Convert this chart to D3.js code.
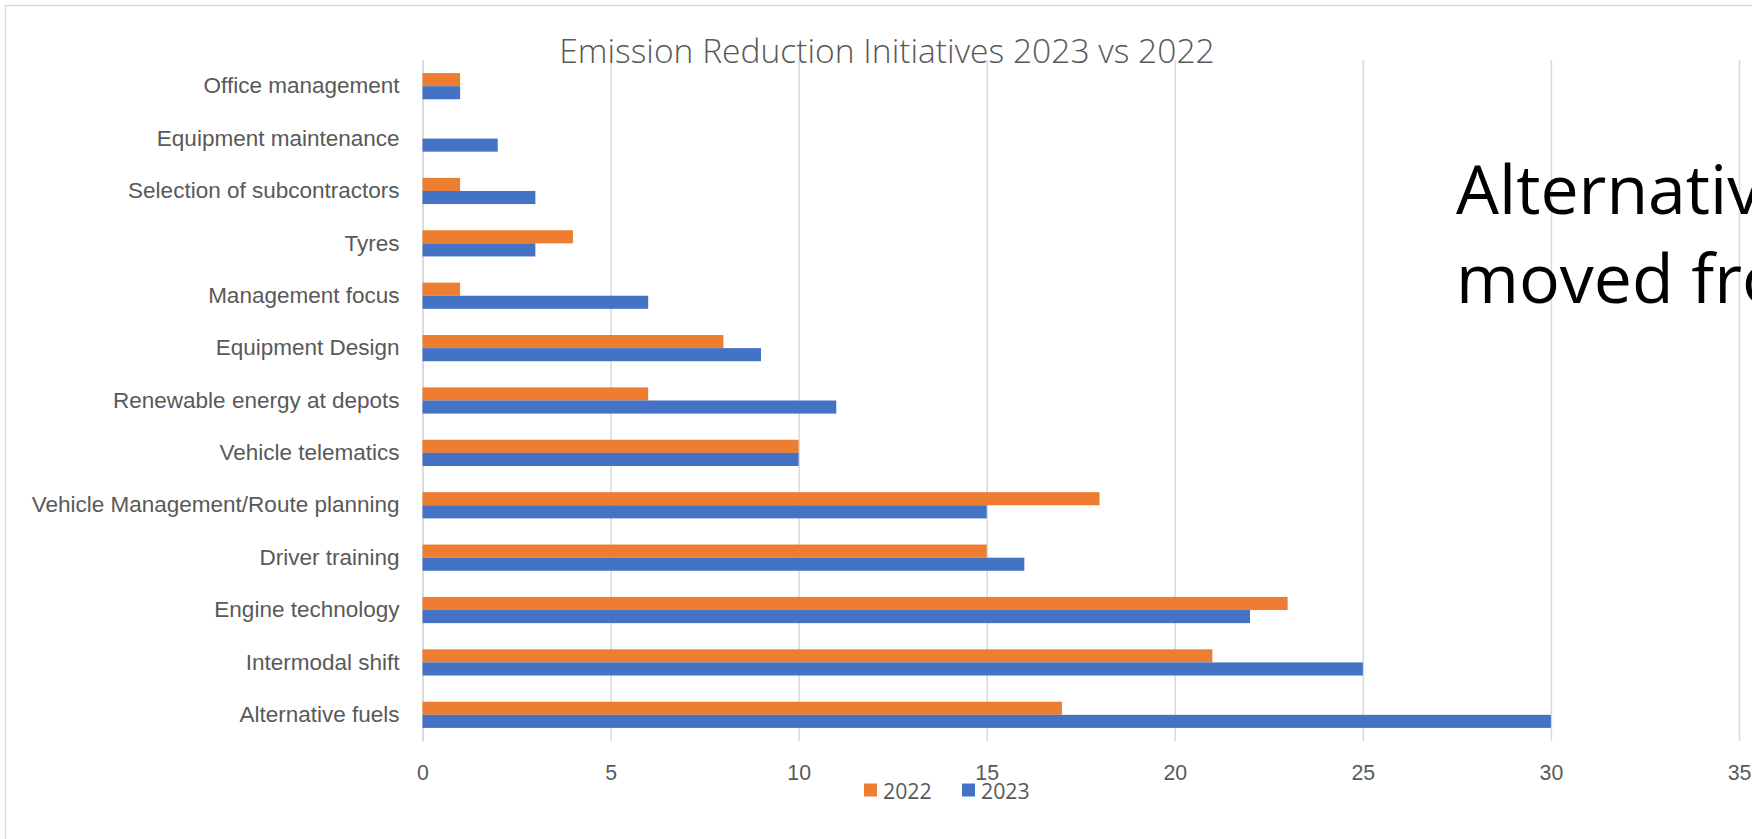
<!DOCTYPE html>
<html>
<head>
<meta charset="utf-8">
<script src="https://cdn.jsdelivr.net/npm/d3@7"></script>
<style>
  html, body { margin: 0; padding: 0; background: #ffffff; overflow: hidden; }
  svg { display: block; font-family: "Open Sans", "Noto Sans", sans-serif; }
</style>
</head>
<body>
<svg id="chart" width="1752" height="839"></svg>
<script>
// Initiatives, listed top to bottom
const categories = [
  "Office management",
  "Equipment maintenance",
  "Selection of subcontractors",
  "Tyres",
  "Management focus",
  "Equipment Design",
  "Renewable energy at depots",
  "Vehicle telematics",
  "Vehicle Management/Route planning",
  "Driver training",
  "Engine technology",
  "Intermodal shift",
  "Alternative fuels"
];
const values2022 = [1, 0, 1, 4, 1, 8, 6, 10, 18, 15, 23, 21, 17];
const values2023 = [1, 2, 3, 3, 6, 9, 11, 10, 15, 16, 22, 25, 30];
const seriesNames = ["2022", "2023"];
const seriesColors = ["#ED7D31", "#4472C4"];
const xTicks = [0, 5, 10, 15, 20, 25, 30, 35];
const titleText = "Emission Reduction Initiatives 2023 vs 2022";
const noteLines = ["Alternative fuels", "moved from"];

const svg = d3.select("#chart");

// chart frame
svg.append("rect")
  .attr("x", 5.5).attr("y", 5.5)
  .attr("width", 2000).attr("height", 2000)
  .attr("fill", "none")
  .attr("stroke", "#d9d9d9")
  .attr("stroke-width", 1.5);

const plot = { left: 422.5, right: 1739, top: 60, bottom: 741 };

const x = d3.scaleLinear().domain([0, 35]).range([plot.left, plot.right]);
const y = d3.scaleBand().domain(categories).range([plot.top, plot.bottom]).padding(0);
const ySub = d3.scaleBand().domain(seriesNames).range([0, y.bandwidth()])
  .paddingInner(0).paddingOuter(1);

// vertical gridlines + value labels
const xAxis = svg.append("g")
  .attr("transform", `translate(0,${plot.bottom})`)
  .call(d3.axisBottom(x).tickValues(xTicks)
    .tickSizeInner(-(plot.bottom - plot.top)).tickSizeOuter(0).tickFormat(d3.format("d")));
xAxis.select(".domain").remove();
xAxis.selectAll(".tick line").attr("stroke", "#d9d9d9").attr("stroke-width", 1.5);
xAxis.selectAll(".tick text")
  .attr("y", 32).attr("dy", "0.35em")
  .attr("fill", "#595959")
  .style("font-size", "21.3px");

// category axis
const yAxis = svg.append("g")
  .attr("transform", `translate(${plot.left},0)`)
  .call(d3.axisLeft(y).tickSize(0).tickPadding(23));
yAxis.select(".domain").attr("stroke", "#d9d9d9").attr("stroke-width", 1.5);
yAxis.selectAll(".tick text")
  .attr("fill", "#595959")
  .style("font-size", "22.5px");

// bars
const rows = categories.map((c, i) => ({ c, v: [values2022[i], values2023[i]] }));
const groups = svg.append("g").selectAll("g")
  .data(rows).join("g")
  .attr("transform", d => `translate(0,${y(d.c)})`);
groups.selectAll("rect")
  .data(d => d.v.map((v, k) => ({ s: seriesNames[k], v, k })).filter(e => e.v > 0))
  .join("rect")
  .attr("x", x(0))
  .attr("y", e => ySub(e.s))
  .attr("width", e => x(e.v) - x(0))
  .attr("height", ySub.bandwidth())
  .attr("fill", e => seriesColors[e.k]);

// title
svg.append("text")
  .attr("x", 887).attr("y", 50)
  .attr("text-anchor", "middle")
  .attr("dominant-baseline", "central")
  .attr("fill", "#595959")
  .style("font-size", "33.6px")
  .style("font-weight", 300)
  .text(titleText);

// legend
const legend = svg.append("g").attr("transform", "translate(864,790)");
const legendX = [0, 98];
seriesNames.forEach((s, i) => {
  const g = legend.append("g").attr("transform", `translate(${legendX[i]},0)`);
  g.append("rect").attr("x", 0).attr("y", -6.5).attr("width", 13).attr("height", 13)
    .attr("fill", seriesColors[i]);
  g.append("text").attr("x", 19).attr("y", 0).attr("dominant-baseline", "central")
    .attr("fill", "#595959").style("font-size", "21.3px").text(s);
});

// side note text
svg.append("g").selectAll("text")
  .data(noteLines).join("text")
  .attr("x", 1456)
  .attr("y", (d, i) => 214 + i * 89)
  .attr("fill", "#000000")
  .style("font-size", "68px")
  .text(d => d);
</script>
</body>
</html>
